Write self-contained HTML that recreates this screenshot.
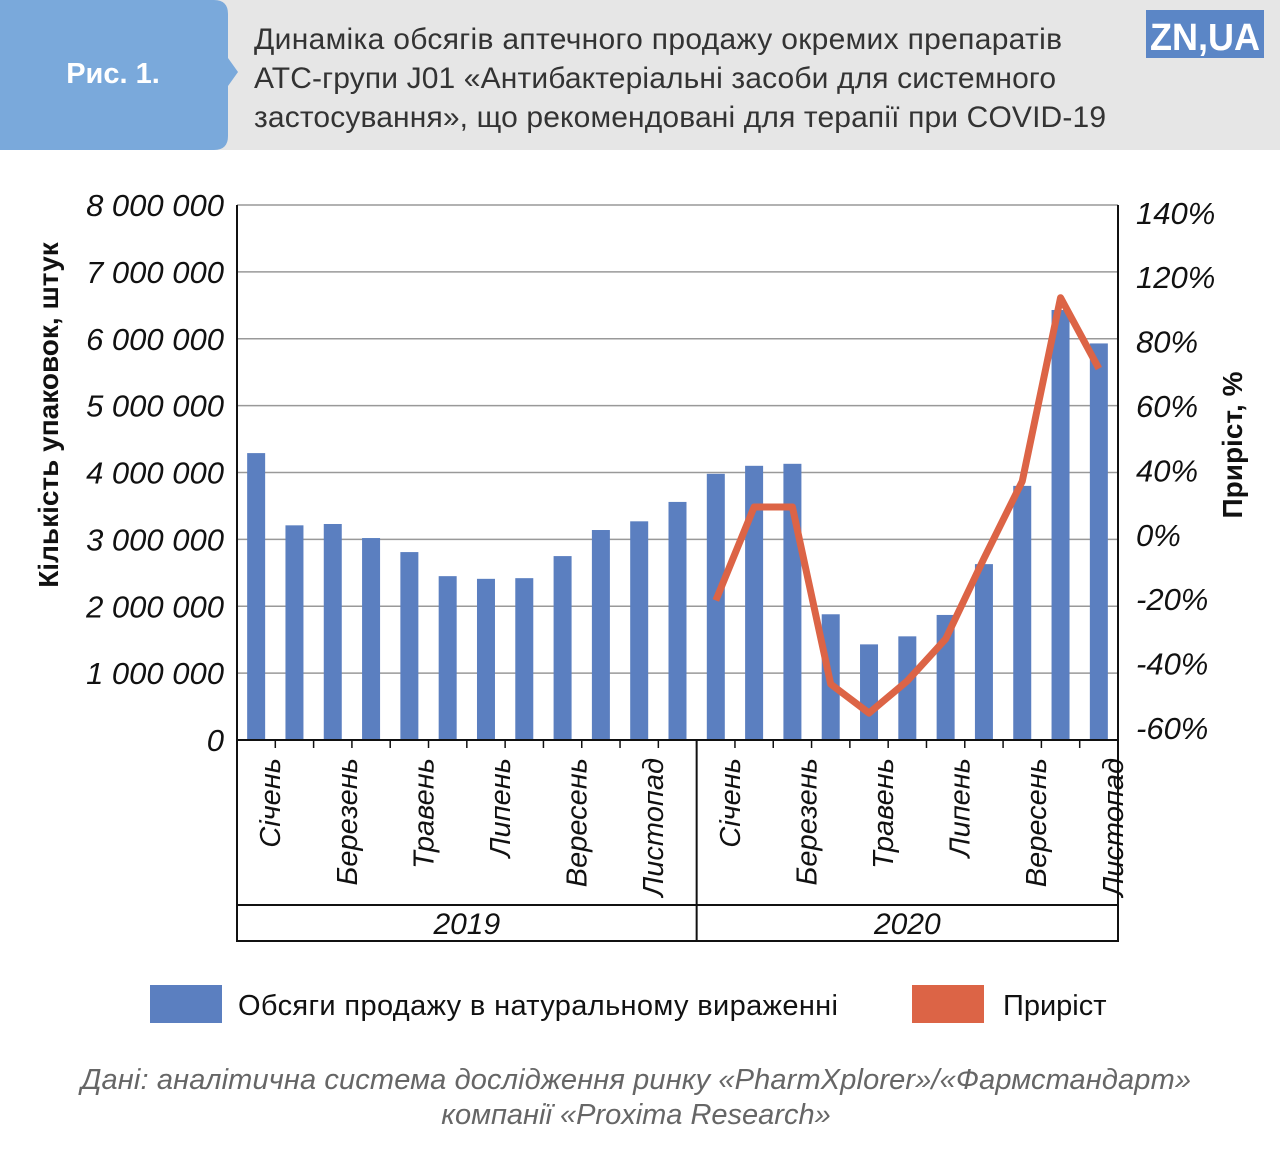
<!DOCTYPE html>
<html><head><meta charset="utf-8"><style>
body{margin:0;width:1280px;height:1166px;background:#fff;font-family:"Liberation Sans",sans-serif;overflow:hidden}
</style></head><body>
<svg width="1280" height="1166" viewBox="0 0 1280 1166" style="position:absolute;left:0;top:0">
<rect x="0" y="0" width="1280" height="150" fill="#e6e6e6"/>
<path d="M0 0 H214 Q228 0 228 14 V58 L238 72 L228 86 V136 Q228 150 214 150 H0 Z" fill="#7aa9db"/>
<text x="113" y="83" font-size="29" font-weight="bold" fill="#fff" text-anchor="middle">Рис. 1.</text>
<g font-size="30" fill="#333">
<text x="254" y="49" textLength="808">Динаміка обсягів аптечного продажу окремих препаратів</text>
<text x="254" y="88" textLength="802">АТС-групи J01 «Антибактеріальні засоби для системного</text>
<text x="254" y="127" textLength="852">застосування»,  що рекомендовані для терапії при COVID-19</text>
</g>
<rect x="1146" y="10" width="118" height="48" fill="#5b86c6"/>
<text x="1150" y="50" font-size="38" font-weight="bold" fill="#fff" textLength="110" lengthAdjust="spacingAndGlyphs">ZN,UA</text>
<g id="grid"></g><g id="bars"></g><g id="axes"></g><g id="line"></g>
<rect x="150" y="985" width="72" height="38" fill="#5b7fc0"/>
<text x="238" y="1015" font-size="29" fill="#111" textLength="600">Обсяги продажу в натуральному вираженні</text>
<rect x="912" y="985" width="72" height="38" fill="#dc6446"/>
<text x="1003" y="1015" font-size="29" fill="#111">Приріст</text>
<text x="636" y="1089" font-size="29" font-style="italic" fill="#666" text-anchor="middle" textLength="1110">Дані: аналітична система дослідження ринку «PharmXplorer»/«Фармстандарт»</text>
<text x="636" y="1124" font-size="29" font-style="italic" fill="#666" text-anchor="middle">компанії «Proxima Research»</text>
</svg>
<script>
const months=["Січень","Лютий","Березень","Квітень","Травень","Червень","Липень","Серпень","Вересень","Жовтень","Листопад","Грудень"];
const volume2019=[4.29,3.21,3.23,3.02,2.81,2.45,2.41,2.42,2.75,3.14,3.27,3.56];
const volume2020=[3.98,4.10,4.13,1.88,1.43,1.55,1.87,2.63,3.80,6.43,5.93];
const growth2020=[-20,9,9,-46,-55,-45,-32,-7,17,74,52];
const leftTicks=[0,1,2,3,4,5,6,7,8];
const leftTickLabels=["0","1 000 000","2 000 000","3 000 000","4 000 000","5 000 000","6 000 000","7 000 000","8 000 000"];
const rightTickLabels=["-60%","-40%","-20%","0%","40%","60%","80%","120%","140%"];
const years=["2019","2020"];
const NS="http://www.w3.org/2000/svg";
const X0=237,X1=1118,Y0=740,Y8=205;
const yL=v=>Y0-(v/8)*(Y0-Y8);
const yR=v=>536-v*3.22;
const yRLabel=i=>728-i*64.4;
const N=23,step=(X1-X0)/N;
const xC=i=>X0+step*(i+0.5);
function mk(tag,attrs,parent,txt){const e=document.createElementNS(NS,tag);for(const k in attrs)e.setAttribute(k,attrs[k]);if(txt!==undefined)e.textContent=txt;document.getElementById(parent).appendChild(e);return e;}
leftTicks.forEach((t,i)=>{
 const g=mk('line',{x1:X0,x2:X1,y1:yL(t),y2:yL(t),stroke:'#999','stroke-width':1.5},'grid');
 
 
 const l=mk('text',{x:224,y:yL(t)+11,'font-size':31,'font-style':'italic','text-anchor':'end',fill:'#111'},'axes',leftTickLabels[i]);
 
 
});
rightTickLabels.forEach((lab,i)=>{
 const l=mk('text',{x:1136,y:yRLabel(i)+11,'font-size':31,'font-style':'italic',fill:'#111'},'axes',lab);
 
 
});
const vols=volume2019.concat(volume2020);
vols.forEach((v,i)=>{
 const b=mk('rect',{x:xC(i)-9,y:yL(v),width:18,height:Y0-yL(v),fill:'#5b7fc0'},'bars');
 
 
});
const ax=mk('path',{d:`M${X0} ${Y8} V${Y0} H${X1} M${X1} ${Y8} V${Y0} M${X0} ${Y0} V941 H${X1} V${Y0} M${X0} 905 H${X1} M${X0+step*12} ${Y0} V941`,stroke:'#111','stroke-width':2,fill:'none'},'axes');


for(let i=1;i<N;i++){const t=mk('line',{x1:X0+step*i,x2:X0+step*i,y1:Y0,y2:Y0+8,stroke:'#111','stroke-width':1.5},'axes');}
vols.forEach((v,i)=>{
 const m=i<12?i:i-12;
 if(m%2!==0)return;
 const x=xC(i)+24,y=758;
 const l=mk('text',{x:x,y:y,'font-size':29,'font-style':'italic','text-anchor':'end',fill:'#111',transform:`rotate(-90 ${x} ${y})`},'axes',months[m]);
 
 
});
years.forEach((yr,j)=>{
 const cx=j===0?(X0+X0+step*12)/2:(X0+step*12+X1)/2;
 const l=mk('text',{x:cx,y:934,'font-size':30,'font-style':'italic','text-anchor':'middle',fill:'#111'},'axes',yr);
 
 
});
const pts=growth2020.map((g,i)=>xC(12+i)+','+yR(g)).join(' ');
const pl=mk('polyline',{points:pts,fill:'none',stroke:'#dc6446','stroke-width':7,'stroke-linejoin':'round'},'line');


const t1=mk('text',{x:0,y:0,'font-size':28,'font-weight':'bold',fill:'#111','text-anchor':'middle',transform:'translate(58 415) rotate(-90)'},'axes','Кількість упаковок, штук');


const t2=mk('text',{x:0,y:0,'font-size':28,'font-weight':'bold',fill:'#111','text-anchor':'middle',transform:'translate(1242 445) rotate(-90)'},'axes','Приріст, %');


</script>
</body></html>
